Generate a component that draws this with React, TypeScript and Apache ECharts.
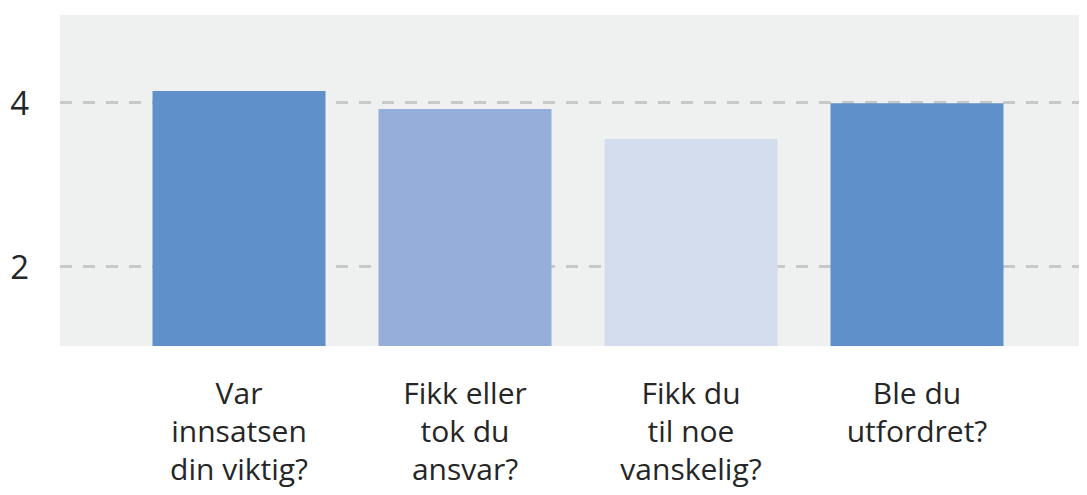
import React, { useEffect, useRef } from "react";
import * as echarts from "echarts";

const categories = [
  "Var\ninnsatsen\ndin viktig?",
  "Fikk eller\ntok du\nansvar?",
  "Fikk du\ntil noe\nvanskelig?",
  "Ble du\nutfordret?",
];
const values = [4.14, 3.92, 3.555, 3.99];
const barColors = ["#6090CA", "#96AEDA", "#D4DDEE", "#6090CA"];
const yTicks = [2, 4];
const yMin = 1.03;
const yMax = 5.067;

export default function App() {
  const ref = useRef<HTMLDivElement>(null);
  useEffect(() => {
    if (!ref.current) return;
    const chart = echarts.init(ref.current, null, { renderer: "svg" });
    const font = "'Open Sans', sans-serif";
    chart.setOption({
      animation: false,
      grid: [
        {
          left: 60,
          right: 0,
          top: 15,
          bottom: 149,
          show: true,
          backgroundColor: "#EFF0F0",
          borderWidth: 0,
        },
        { left: 126, right: 57, top: 15, bottom: 149 },
      ],
      xAxis: [
        { type: "value", gridIndex: 0, show: false, min: 0, max: 1 },
        {
          type: "category",
          gridIndex: 1,
          data: categories,
          axisLine: { show: false },
          axisTick: { show: false },
          axisLabel: {
            interval: 0,
            margin: 27,
            fontFamily: font,
            fontSize: 30,
            lineHeight: 38,
            color: "#262626",
            align: "center",
          },
        },
      ],
      yAxis: [
        {
          type: "value",
          gridIndex: 0,
          min: yMin,
          max: yMax,
          axisLine: { show: false },
          axisTick: { show: false, customValues: yTicks },
          axisLabel: {
            customValues: yTicks,
            margin: 31,
            fontFamily: font,
            fontSize: 33,
            color: "#262626",
            padding: [0, 0, 8, 0],
          },
          splitLine: {
            show: true,
            lineStyle: { color: "#C8C8C8", width: 3, type: [12, 11] },
          },
        },
        {
          type: "value",
          gridIndex: 1,
          min: yMin,
          max: yMax,
          show: false,
          splitLine: { show: false },
        },
      ],
      series: [
        {
          type: "bar",
          xAxisIndex: 1,
          yAxisIndex: 1,
          barWidth: 173,
          data: values.map((v, i) => ({ value: v, itemStyle: { color: barColors[i] } })),
        },
      ],
    });
    return () => chart.dispose();
  }, []);
  return <div ref={ref} style={{ width: 1087, height: 495, margin: -8 }} />;
}
